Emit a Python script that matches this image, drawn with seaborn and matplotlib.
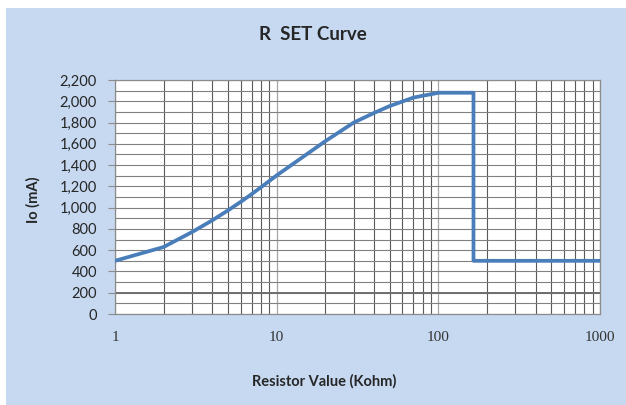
import matplotlib
matplotlib.use('Agg')
from matplotlib import pyplot as plt
from matplotlib.patches import Rectangle
from matplotlib.ticker import FixedLocator, FuncFormatter
import seaborn as sns

# resistor value (Kohm) vs output current (mA)
resistor_kohm = [1, 2, 3, 4, 5, 6, 7, 8, 9, 10, 20, 30, 40, 50, 60, 70, 80, 90, 100, 165, 165, 1000]
io_ma = [500, 630, 771, 881, 974, 1055, 1127, 1192, 1250, 1303, 1625, 1800, 1890, 1955, 1998, 2034, 2052, 2066, 2080, 2080, 500, 500]

y_ticks = list(range(0, 2201, 200))
x_ticks = [1, 10, 100, 1000]
x_tick_labels = ['1', '10', '100', '1000']

sns.set_style('white')
plt.rcParams['font.family'] = ['Lato', 'DejaVu Sans']

fig = plt.figure(figsize=(6.26, 4.05), dpi=100)
fig.patch.set_facecolor('white')
bg = Rectangle((6 / 626, 0), 1 - 6 / 626, 1 - 8 / 405,
               transform=fig.transFigure, facecolor='#c6d9f1',
               edgecolor='none', zorder=-5)
fig.add_artist(bg)

ax = fig.add_axes([115 / 626, 91 / 405, 485 / 626, 234 / 405])
ax.set_zorder(1)
ax.set_facecolor('white')

sns.lineplot(x=resistor_kohm, y=io_ma, estimator=None, sort=False,
             color='#4a7ebb', linewidth=2.7, ax=ax, zorder=3)

ax.set_xscale('log')
ax.set_xlim(1, 1000)
ax.set_ylim(0, 2200)

ax.xaxis.set_major_locator(FixedLocator(x_ticks))
ax.xaxis.set_major_formatter(FuncFormatter(lambda v, p: x_tick_labels[x_ticks.index(v)] if v in x_ticks else ''))
minor_x = [m * d for d in [1, 10, 100] for m in range(2, 10)]
ax.xaxis.set_minor_locator(FixedLocator(minor_x))
ax.xaxis.set_minor_formatter(FuncFormatter(lambda v, p: ''))

ax.yaxis.set_major_locator(FixedLocator(y_ticks))
ax.yaxis.set_minor_locator(FixedLocator(list(range(100, 2200, 200))))
ax.yaxis.set_major_formatter(FuncFormatter(lambda v, p: f'{int(v):,}'))

ax.grid(which='major', axis='x', color='#a6a6a6', linewidth=0.9)
ax.grid(which='minor', axis='x', color='#5a5a5a', linewidth=0.8)
ax.grid(which='both', axis='y', color='#808080', linewidth=0.8)
ax.axhline(200, color='#6e6e6e', linewidth=1.4, zorder=2)

for s in ax.spines.values():
    s.set_color('#8c8c8c')
    s.set_linewidth(0.9)

ax.tick_params(axis='y', which='major', direction='out', length=5, color='#8c8c8c',
               labelsize=10.5, pad=8, left=True)
ax.tick_params(axis='y', which='minor', length=0)
ax.tick_params(axis='x', which='both', length=0, pad=12)
for lab in ax.get_xticklabels():
    lab.set_fontfamily('Liberation Serif')
    lab.set_fontsize(11)
    lab.set_color('#333333')

ax.set_xlabel('')
ax.set_ylabel('')
fig.text(313 / 626, 1 - 35 / 405, 'R  SET Curve', fontsize=13.5, fontweight='bold',
         ha='center', va='center')
fig.text(324 / 626, 1 - 381 / 405, 'Resistor Value (Kohm)', fontsize=10.5,
         fontweight='bold', ha='center', va='center')
fig.text(33 / 626, 1 - 200 / 405, 'Io (mA)', fontsize=10.5, fontweight='bold',
         ha='center', va='center', rotation=90)

fig.savefig('out.png', dpi=100, facecolor=fig.get_facecolor())
